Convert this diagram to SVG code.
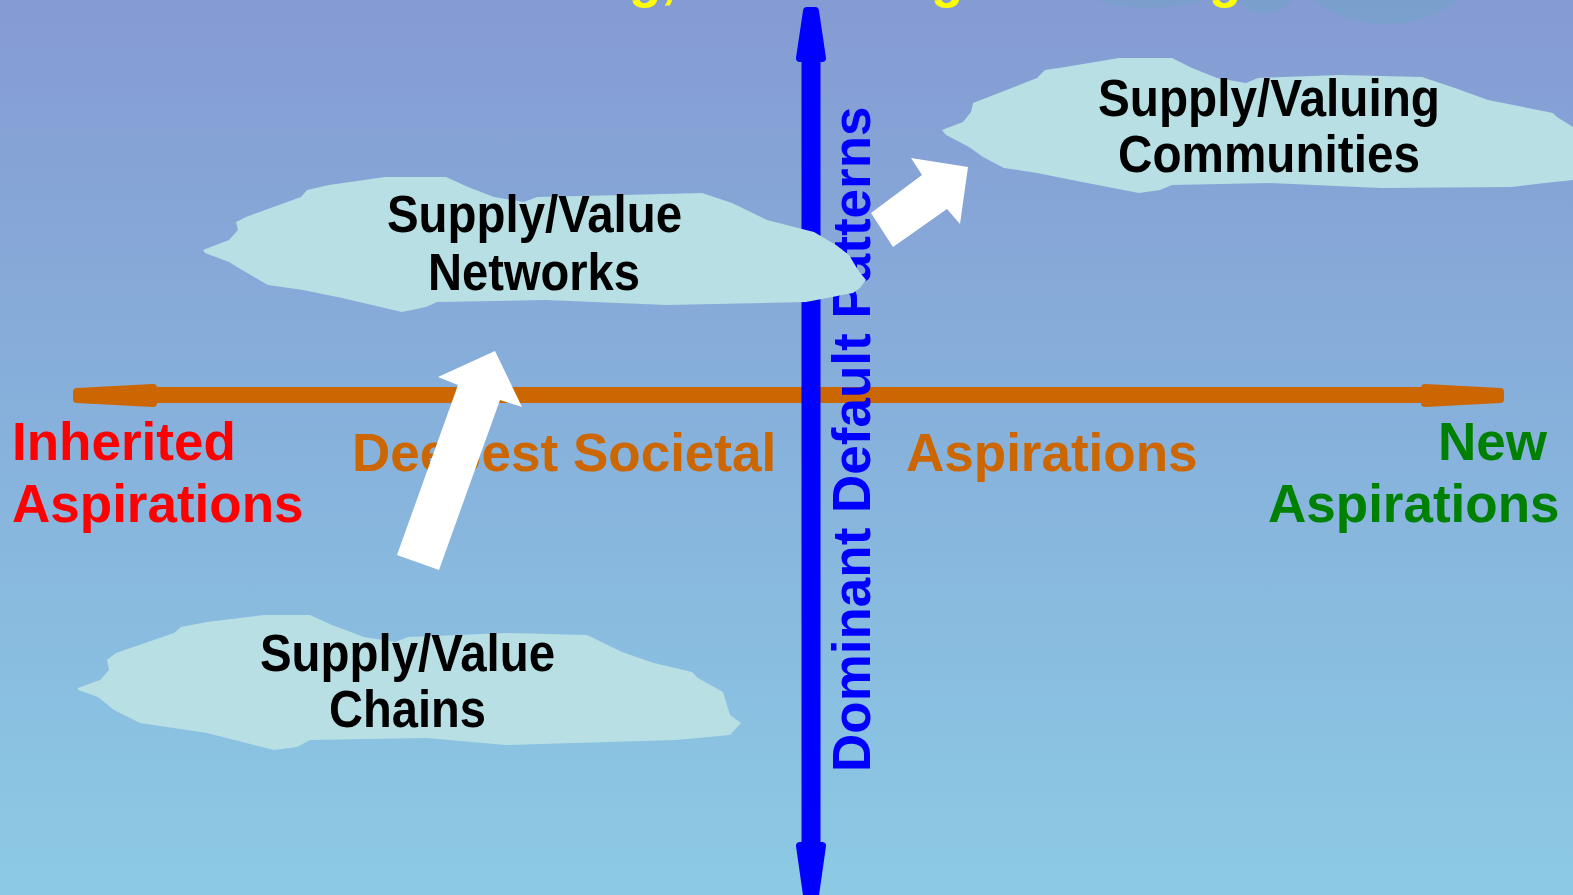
<svg xmlns="http://www.w3.org/2000/svg" width="1573" height="895" viewBox="0 0 1573 895">
<defs>
<linearGradient id="bg" x1="0" y1="0" x2="0" y2="1">
<stop offset="0" stop-color="#859bd3"/>
<stop offset="0.5" stop-color="#87b2dc"/>
<stop offset="1" stop-color="#8ccae4"/>
</linearGradient>
</defs>
<style>
.cloud{fill:#b8dfe3}
.ct{font-family:"Liberation Sans",Arial,sans-serif;font-weight:bold;font-size:51px;fill:#000}
.lbl{font-family:"Liberation Sans",Arial,sans-serif;font-weight:bold;font-size:53px}
.title{font-family:"Liberation Sans",Arial,sans-serif;font-weight:bold;font-size:53px;fill:#ffff00}
.orange{fill:#cc6600}
.ohead{fill:#cc6600;stroke:#cc6600;stroke-width:8;stroke-linejoin:round}
.bhead{fill:#0000ff;stroke:#0000ff;stroke-width:8;stroke-linejoin:round}
.blk{fill:#ffffff}
.bub{fill:#6fa3c8;opacity:0.5}
</style>
<rect x="0" y="0" width="1573" height="895" fill="url(#bg)"/>
<g id="top-decor">
<circle class="bub" cx="1150" cy="-172" r="180"/>
<circle class="bub" cx="1265" cy="-24" r="37"/>
<circle class="bub" cx="1386" cy="-99" r="123"/>
<text class="title" x="629" y="-3">g,</text>
<text class="title" x="931" y="-3">g</text>
<text class="title" x="1209" y="-3">g</text>
</g>
<g id="connectors">
<g id="axis-horizontal">
<line x1="150" y1="395" x2="1428" y2="395" stroke="#cc6600" stroke-width="16"/>
<path class="ohead" d="M153,388 L77,392 L77,399 L153,403 Z"/>
<path class="ohead" d="M1425,388 L1500,392 L1500,399 L1425,403 Z"/>
</g>
<g id="axis-vertical">
<line x1="811" y1="55" x2="811" y2="850" stroke="#0000ff" stroke-width="19"/>
<path class="bhead" d="M800,58 L807,11 L815,11 L822,58 Z"/>
<path class="bhead" d="M800,846 L807,895 L815,895 L822,846 Z"/>
</g>
</g>
<g id="labels">
<text class="lbl" fill="#ff0000" x="12" y="460">Inherited</text>
<text class="lbl" fill="#ff0000" x="12" y="522">Aspirations</text>
<text class="lbl" fill="#cc6600" x="352" y="471">Deepest Societal</text>
<text class="lbl" fill="#cc6600" x="906" y="471">Aspirations</text>
<text class="lbl" fill="#008000" x="1438" y="460">New</text>
<text class="lbl" fill="#008000" x="1268" y="522">Aspirations</text>
<text class="lbl" fill="#0000ff" transform="translate(870,772) rotate(-90)">Dominant Default Patterns</text>
</g>
<g id="node-networks">
<path class="cloud" d="M203,250 L229,240 L238,230 L236,222 L246,217 L301,197 L307,190 L329,185 L385,177 L446,177 L468,187 L494,197 L524,202 L537,197 L624,195 L702,193 L732,203 L767,220 L806,230 L814,232 L836,245 L849,255 L858,270 L866,280 L860,288 L853,293 L806,302 L667,305 L546,300 L437,302 L426,307 L402,312 L342,298 L303,290 L268,285 L242,270 L229,262 L205,253 Z"/>
<text class="ct" x="387" y="232" textLength="295" lengthAdjust="spacingAndGlyphs">Supply/Value</text>
<text class="ct" x="428" y="290" textLength="212" lengthAdjust="spacingAndGlyphs">Networks</text>
</g>
<g id="node-chains">
<path class="cloud" d="M78,688 L100,680 L109,670 L107,660 L116,653 L174,633 L181,627 L207,622 L265,615 L310,615 L332,625 L364,637 L395,642 L408,637 L506,633 L587,635 L622,652 L654,663 L692,672 L698,678 L723,692 L730,715 L741,723 L730,735 L676,740 L506,745 L426,738 L310,740 L297,747 L274,750 L207,733 L140,723 L114,710 L98,697 L78,690 Z"/>
<text class="ct" x="260" y="671" textLength="295" lengthAdjust="spacingAndGlyphs">Supply/Value</text>
<text class="ct" x="329" y="727" textLength="157" lengthAdjust="spacingAndGlyphs">Chains</text>
</g>
<g id="node-communities">
<path class="cloud" d="M942,130 L963,122 L971,112 L973,103 L1037,78 L1045,70 L1065,67 L1119,58 L1172,58 L1192,68 L1217,78 L1246,83 L1258,78 L1340,75 L1422,77 L1455,88 L1488,100 L1553,113 L1557,117 L1573,127 L1573,180 L1545,183 L1512,187 L1381,188 L1270,183 L1172,185 L1160,190 L1139,193 L1082,182 L1037,173 L1004,168 L983,157 L969,147 L946,135 Z"/>
<text class="ct" x="1098" y="116" textLength="342" lengthAdjust="spacingAndGlyphs">Supply/Valuing</text>
<text class="ct" x="1118" y="172" textLength="302" lengthAdjust="spacingAndGlyphs">Communities</text>
</g>
<g id="transitions">
<path class="blk" d="M397,555 L439,570 L500,400 L522,407 L495,351 L438,377 L458,385 Z"/>
<path class="blk" d="M893,247 L871,213 L922,175 L911,158 L968,167 L960,224 L947,209 Z"/>
</g>
</svg>
